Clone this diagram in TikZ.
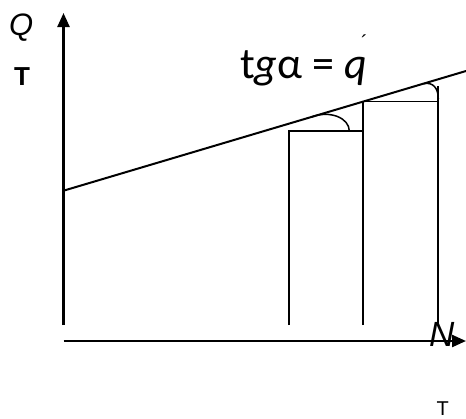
\documentclass[tikz,border=0pt]{standalone}
\usepackage{fontspec}
\setmainfont{Liberation Sans}
\newfontfamily\calfont{Carlito}
\usetikzlibrary{arrows.meta}
\tikzset{
  axisline/.style={line width=2.4pt,-{Triangle[length=14pt,width=12pt]}},
  slantline/.style={line width=2pt},
  barline/.style={line width=1.7pt},
  anglearc/.style={line width=1.5pt},
  lbl/.style={inner sep=0pt,anchor=base west}
}
\begin{document}
\begin{tikzpicture}[x=1pt,y=-1pt]
\useasboundingbox (0,0) rectangle (466,418);
% axes
\coordinate (O1) at (63.5,325);
\coordinate (Ytip) at (63.5,13);
\coordinate (O2) at (63.5,341);
\coordinate (Xtip) at (466,341);
\draw[axisline] (O1) -- (Ytip);
\draw[axisline] (O2) -- (Xtip);
% slant line
\coordinate (L0) at (63.5,190.7);
\coordinate (L1) at (466,71);
\draw[slantline] (L0) -- (L1);
% bars
\coordinate (A1) at (288.7,325);
\coordinate (A2) at (288.7,131);
\coordinate (B1) at (363.3,325);
\coordinate (B2) at (363.3,101.5);
\coordinate (B3) at (363.3,131);
\coordinate (C1) at (438.3,325);
\coordinate (C2) at (438.3,86);
\coordinate (C3) at (438.3,101.5);
\draw[barline] (A1) -- (A2) -- (B3);
\draw[barline] (B1) -- (B2) -- (C3);
\draw[barline] (C1) -- (C2);
% angle arcs
\coordinate (P1) at (311.7,116.9);
\coordinate (Q1) at (349.3,131);
\draw[anglearc] (P1) .. controls (330,110) and (349.3,118) .. (Q1);
\coordinate (P2) at (424,83.6);
\coordinate (Q2) at (438.3,99);
\draw[anglearc] (P2) .. controls (433,82) and (438.3,88) .. (Q2);
% labels
\node[lbl] (q) at (9,35) {\fontsize{31}{31}\selectfont\itshape Q};
\node[lbl] (t1) at (14,85) {\fontsize{26}{26}\selectfont\bfseries T};
\node[lbl] (eq) at (240,78) {\calfont\fontsize{44}{44}\selectfont t\textit{g}α = \textit{q}};
\node[lbl] (pr) at (361,49.5) {\fontsize{20}{20}\selectfont ´};
\node[lbl] (n) at (429,346.5) {\fontsize{35}{35}\selectfont\itshape N};
\node[lbl] (t2) at (436.5,415) {\fontsize{20}{20}\selectfont T};
\end{tikzpicture}
\end{document}
